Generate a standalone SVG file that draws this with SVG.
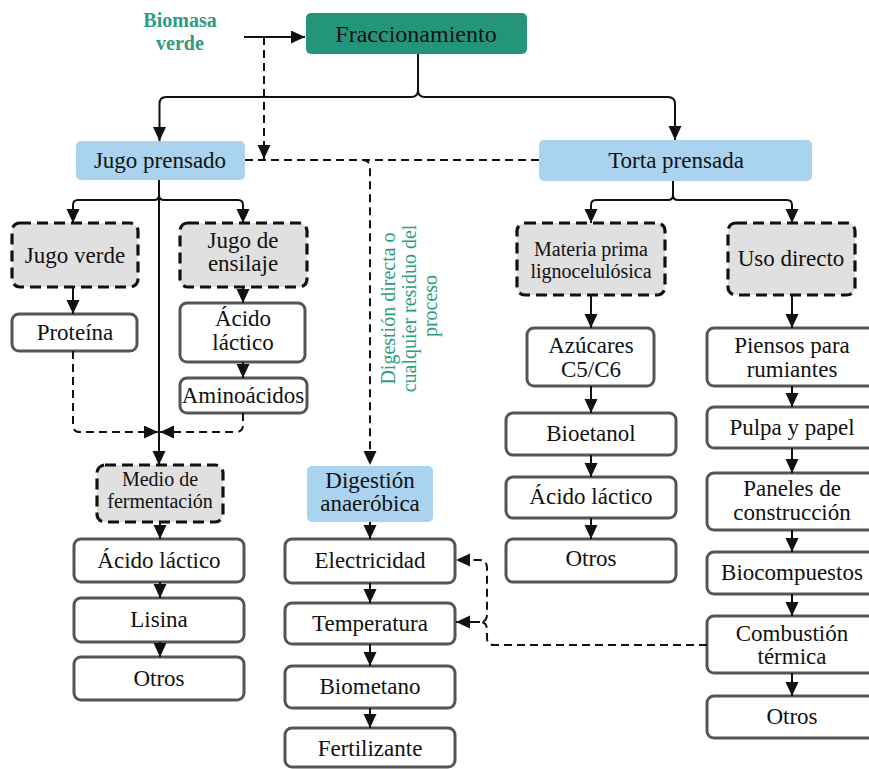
<svg xmlns="http://www.w3.org/2000/svg" width="869" height="769" viewBox="0 0 869 769" font-family="'Liberation Serif', 'DejaVu Serif', 'Noto Serif', serif">
  <style>
    text { font-family: "Liberation Serif", "DejaVu Serif", "Noto Serif", serif; fill: #111; text-anchor: middle; }
    .t { font-size: 23px; }
    .s { font-size: 20px; }
    .green { fill: #2f9c80; }
    .teal { fill: #24957b; }
    .blue { fill: #a9d3ee; }
    .opt { fill: #e0e0e0; stroke: #111; stroke-width: 3.2; stroke-dasharray: 11 6; }
    .out { fill: #fff; stroke: #555; stroke-width: 3; }
    .ln { fill: none; stroke: #111; stroke-width: 2; }
    .dl { fill: none; stroke: #111; stroke-width: 2; stroke-dasharray: 8 5; }
  </style>
  <defs>
    <marker id="arr" markerUnits="userSpaceOnUse" markerWidth="14" markerHeight="14" refX="14" refY="6.5" orient="auto">
      <path d="M0,0 L14,6.5 L0,13 z" fill="#111"/>
    </marker>
  </defs>

  <!-- input label -->
  <g id="biomasa">
    <text class="green" style="font-weight:bold;font-size:20px" x="180" y="27">Biomasa</text>
    <text class="green" style="font-weight:bold;font-size:20px" x="180" y="50">verde</text>
  </g>

  <g id="fraccionamiento">
    <rect class="teal" x="306" y="13" width="221" height="41" rx="5"/>
    <text style="font-size:24px" x="416" y="42">Fraccionamiento</text>
  </g>

  <g id="jugo-prensado">
    <rect class="blue" x="76" y="141" width="169" height="39" rx="5"/>
    <text class="t" x="160" y="168">Jugo prensado</text>
  </g>

  <g id="torta-prensada">
    <rect class="blue" x="539" y="140" width="273" height="41" rx="5"/>
    <text class="t" x="676" y="168">Torta prensada</text>
  </g>

  <!-- left branch -->
  <g id="jugo-verde">
    <rect class="opt" x="12" y="223" width="126" height="64" rx="8"/>
    <text class="t" x="75" y="263">Jugo verde</text>
  </g>
  <g id="jugo-ensilaje">
    <rect class="opt" x="180" y="223" width="127" height="64" rx="8"/>
    <text class="t" x="243" y="248">Jugo de</text>
    <text class="t" x="243" y="271">ensilaje</text>
  </g>
  <g id="proteina">
    <rect class="out" x="12" y="314" width="125" height="37" rx="7"/>
    <text class="t" x="75" y="340">Proteína</text>
  </g>
  <g id="acido-lactico-ensilaje">
    <rect class="out" x="180" y="303" width="125" height="59" rx="7"/>
    <text class="t" x="243" y="326">Ácido</text>
    <text class="t" x="243" y="350">láctico</text>
  </g>
  <g id="aminoacidos">
    <rect class="out" x="180" y="378" width="127" height="35" rx="7"/>
    <text class="t" x="243" y="403">Aminoácidos</text>
  </g>
  <g id="medio-fermentacion">
    <rect class="opt" x="97" y="465" width="126" height="57" rx="8"/>
    <text class="s" x="160" y="486">Medio de</text>
    <text class="s" x="160" y="508">fermentación</text>
  </g>
  <g id="acido-lactico-1">
    <rect class="out" x="74" y="539" width="170" height="43" rx="7"/>
    <text class="t" x="159" y="568">Ácido láctico</text>
  </g>
  <g id="lisina">
    <rect class="out" x="74" y="598" width="170" height="44" rx="7"/>
    <text class="t" x="159" y="627">Lisina</text>
  </g>
  <g id="otros-1">
    <rect class="out" x="74" y="657" width="170" height="43" rx="7"/>
    <text class="t" x="159" y="686">Otros</text>
  </g>

  <!-- digestion branch -->
  <g id="digestion-label">
    <text class="green s" transform="translate(408,306) rotate(-90)">
      <tspan x="0" y="-13">Digestión directa o</tspan>
      <tspan x="0" y="8">cualquier residuo del</tspan>
      <tspan x="0" y="29">proceso</tspan>
    </text>
  </g>
  <g id="digestion-anaerobica">
    <rect class="blue" x="307" y="466" width="126" height="56" rx="5"/>
    <text class="t" x="370" y="488">Digestión</text>
    <text class="t" x="370" y="511">anaeróbica</text>
  </g>
  <g id="electricidad">
    <rect class="out" x="285" y="539" width="170" height="44" rx="7"/>
    <text class="t" x="370" y="568">Electricidad</text>
  </g>
  <g id="temperatura">
    <rect class="out" x="285" y="603" width="170" height="41" rx="7"/>
    <text class="t" x="370" y="631">Temperatura</text>
  </g>
  <g id="biometano">
    <rect class="out" x="285" y="666" width="170" height="42" rx="7"/>
    <text class="t" x="370" y="694">Biometano</text>
  </g>
  <g id="fertilizante">
    <rect class="out" x="285" y="728" width="170" height="39" rx="7"/>
    <text class="t" x="370" y="756">Fertilizante</text>
  </g>

  <!-- lignocellulosic branch -->
  <g id="materia-prima">
    <rect class="opt" x="517" y="223" width="148" height="72" rx="8"/>
    <text class="s" x="591" y="256">Materia prima</text>
    <text class="s" x="591" y="278">lignocelulósica</text>
  </g>
  <g id="azucares">
    <rect class="out" x="527" y="328" width="127" height="58" rx="7"/>
    <text class="t" x="591" y="353">Azúcares</text>
    <text class="t" x="591" y="377">C5/C6</text>
  </g>
  <g id="bioetanol">
    <rect class="out" x="506" y="413" width="170" height="42" rx="7"/>
    <text class="t" x="591" y="441">Bioetanol</text>
  </g>
  <g id="acido-lactico-2">
    <rect class="out" x="506" y="477" width="170" height="41" rx="7"/>
    <text class="t" x="591" y="504">Ácido láctico</text>
  </g>
  <g id="otros-2">
    <rect class="out" x="506" y="539" width="170" height="43" rx="7"/>
    <text class="t" x="591" y="566">Otros</text>
  </g>

  <!-- direct use branch -->
  <g id="uso-directo">
    <rect class="opt" x="728" y="223" width="127" height="72" rx="8"/>
    <text class="t" x="791" y="266">Uso directo</text>
  </g>
  <g id="piensos">
    <rect class="out" x="707" y="328" width="170" height="58" rx="7"/>
    <text class="t" x="792" y="353">Piensos para</text>
    <text class="t" x="792" y="377">rumiantes</text>
  </g>
  <g id="pulpa-papel">
    <rect class="out" x="707" y="407" width="170" height="41" rx="7"/>
    <text class="t" x="792" y="435">Pulpa y papel</text>
  </g>
  <g id="paneles">
    <rect class="out" x="707" y="473" width="170" height="57" rx="7"/>
    <text class="t" x="792" y="496">Paneles de</text>
    <text class="t" x="792" y="520">construcción</text>
  </g>
  <g id="biocompuestos">
    <rect class="out" x="707" y="552" width="170" height="42" rx="7"/>
    <text class="t" x="792" y="580">Biocompuestos</text>
  </g>
  <g id="combustion">
    <rect class="out" x="707" y="616" width="170" height="57" rx="7"/>
    <text class="t" x="792" y="641">Combustión</text>
    <text class="t" x="792" y="664">térmica</text>
  </g>
  <g id="otros-3">
    <rect class="out" x="707" y="696" width="170" height="42" rx="7"/>
    <text class="t" x="792" y="724">Otros</text>
  </g>

  <g id="connectors">
    <!-- top -->
    <path class="ln" d="M244,37 H305" marker-end="url(#arr)"/>
    <path class="dl" d="M264,37 V159" marker-end="url(#arr)"/>
    <path class="ln" d="M418,54 V90 Q418,97 411,97 H166 Q159.5,97 159.5,104 V141" marker-end="url(#arr)"/>
    <path class="ln" d="M418,90 Q418,97 425,97 H668 Q675,97 675,104 V140" marker-end="url(#arr)"/>
    <path class="dl" d="M245,160 H539"/>
    <path class="dl" d="M362,160 Q370,160 370,168 V465" marker-end="url(#arr)"/>

    <!-- juice branch -->
    <path class="ln" d="M159,180 V195 Q159,200 154,200 H78 Q73,200 73,205 V223" marker-end="url(#arr)"/>
    <path class="ln" d="M159,195 Q159,200 164,200 H238 Q243,200 243,205 V223" marker-end="url(#arr)"/>
    <path class="ln" d="M159,180 V465" marker-end="url(#arr)"/>
    <path class="ln" d="M73,287 V314" marker-end="url(#arr)"/>
    <path class="ln" d="M243,287 V303" marker-end="url(#arr)"/>
    <path class="ln" d="M243,362 V378" marker-end="url(#arr)"/>
    <path class="dl" d="M73,351 V425 Q73,432 80,432 H158" marker-end="url(#arr)"/>
    <path class="dl" d="M243,413 V425 Q243,432 236,432 H160" marker-end="url(#arr)"/>
    <path class="ln" d="M160,522 V539" marker-end="url(#arr)"/>
    <path class="ln" d="M160,582 V598" marker-end="url(#arr)"/>
    <path class="ln" d="M160,642 V657" marker-end="url(#arr)"/>

    <!-- digestion chain -->
    <path class="ln" d="M370,522 V539" marker-end="url(#arr)"/>
    <path class="ln" d="M370,583 V603" marker-end="url(#arr)"/>
    <path class="ln" d="M370,644 V666" marker-end="url(#arr)"/>
    <path class="ln" d="M370,708 V728" marker-end="url(#arr)"/>

    <!-- cake branch -->
    <path class="ln" d="M673,181 V195 Q673,200 668,200 H596 Q591,200 591,205 V223" marker-end="url(#arr)"/>
    <path class="ln" d="M673,195 Q673,200 678,200 H787 Q792,200 792,205 V223" marker-end="url(#arr)"/>
    <path class="ln" d="M591,295 V328" marker-end="url(#arr)"/>
    <path class="ln" d="M591,386 V413" marker-end="url(#arr)"/>
    <path class="ln" d="M591,455 V477" marker-end="url(#arr)"/>
    <path class="ln" d="M591,518 V539" marker-end="url(#arr)"/>
    <path class="ln" d="M792,295 V328" marker-end="url(#arr)"/>
    <path class="ln" d="M792,386 V407" marker-end="url(#arr)"/>
    <path class="ln" d="M792,448 V473" marker-end="url(#arr)"/>
    <path class="ln" d="M792,530 V552" marker-end="url(#arr)"/>
    <path class="ln" d="M792,594 V616" marker-end="url(#arr)"/>
    <path class="ln" d="M792,673 V696" marker-end="url(#arr)"/>

    <!-- heat recovery loop -->
    <path class="dl" d="M707,645 H494 Q487,645 487,638 V630 Q487,622 480,622 Q487,622 487,614 V568 Q487,560 479,560 H456" marker-end="url(#arr)"/>
    <path class="ln" d="M480,622 H456" marker-end="url(#arr)"/>
  </g>
</svg>
